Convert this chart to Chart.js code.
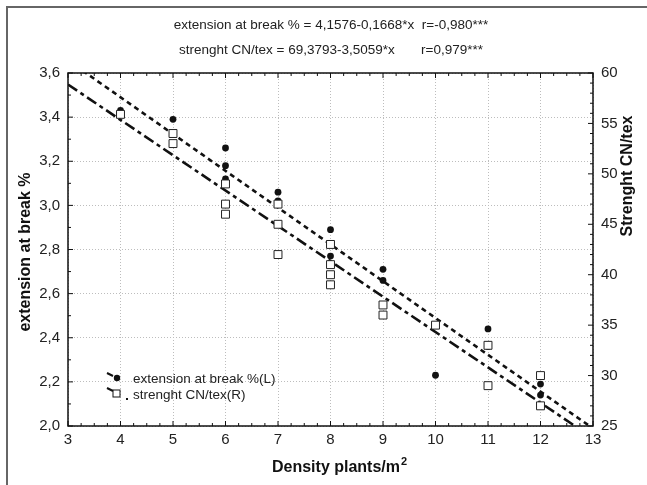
<!DOCTYPE html>
<html>
<head>
<meta charset="utf-8">
<script src="https://cdn.jsdelivr.net/npm/chart.js@4/dist/chart.umd.min.js"></script>
<style>
  html, body { margin: 0; padding: 0; background: #fff; }
  canvas { display: block; }
</style>
</head>
<body>
<canvas id="densityChart" width="647" height="485"></canvas>
<script>
// ======================================================
// Density vs extension at break / strength (two y axes)
// ======================================================

// extension at break % (left axis, filled circles)
const extDensity = [4, 5, 6, 6, 6, 7, 7, 8, 8, 9, 9, 10, 11, 11, 12, 12];
const extValues  = [3.43, 3.39, 3.26, 3.18, 3.12, 3.06, 3.02, 2.89, 2.77, 2.71, 2.66, 2.23, 2.44, 2.36, 2.19, 2.14];

// strenght CN/tex (right axis, open squares)
const strDensity = [4, 5, 5, 6, 6, 6, 7, 7, 7, 8, 8, 8, 8, 9, 9, 10, 11, 11, 12, 12];
const strValues  = [55.9, 54, 53, 49, 47, 46, 47, 45, 42, 43, 41, 40, 39, 37, 36, 35, 33, 29, 30, 27];

// fitted lines, end points at x = 3 and x = 13 (from the printed equations)
const fitDensity = [3, 13];
const extFit     = [3.657, 1.989];
const strFit     = [58.86, 23.80];

const titleLines = [
    "extension at break % = 4,1576-0,1668*x  r=-0,980***",
    "strenght CN/tex = 69,3793-3,5059*x       r=0,979***"
];
const legendLabels = ["extension at break %(L)", "strenght CN/tex(R)"];

const FONT = "'Liberation Sans', Arial, sans-serif";
const pts = (xs, ys) => xs.map((x, i) => ({ x: x, y: ys[i] }));
const comma = v => Number(v).toFixed(1).replace(".", ",");

// inward tick marks along one scale
function tickMarks(scale, minor, major, draw) {
    const n = Math.round((scale.max - scale.min) / minor);
    for (let i = 0; i <= n; i++) {
        const v = scale.min + i * minor;
        const r = v / major;
        const isMajor = Math.abs(r - Math.round(r)) < 1e-6;
        draw(scale.getPixelForValue(v), isMajor ? 5 : 3);
    }
}

const decor = {
    id: "decor",
    beforeDraw(chart) {
        const ctx = chart.ctx;
        ctx.save();
        ctx.fillStyle = "#fff";
        ctx.fillRect(0, 0, chart.width, chart.height);
        ctx.restore();
    },
    afterDraw(chart) {
        const { ctx, chartArea: a, scales } = chart;
        ctx.save();

        // outer frame (top + left only)
        ctx.strokeStyle = "#666";
        ctx.lineWidth = 2;
        ctx.beginPath();
        ctx.moveTo(7, chart.height);
        ctx.lineTo(7, 7);
        ctx.lineTo(chart.width, 7);
        ctx.stroke();

        // plot box
        ctx.strokeStyle = "#111";
        ctx.lineWidth = 1.5;
        ctx.strokeRect(a.left, a.top, a.right - a.left, a.bottom - a.top);

        // tick marks
        ctx.lineWidth = 1;
        ctx.beginPath();
        tickMarks(scales.x, 0.25, 1, (p, len) => {
            ctx.moveTo(p, a.bottom); ctx.lineTo(p, a.bottom - len);
            ctx.moveTo(p, a.top);    ctx.lineTo(p, a.top + len);
        });
        tickMarks(scales.y, 0.1, 0.2, (p, len) => {
            ctx.moveTo(a.left, p); ctx.lineTo(a.left + len, p);
        });
        tickMarks(scales.y2, 1, 5, (p, len) => {
            ctx.moveTo(a.right, p); ctx.lineTo(a.right - len, p);
        });
        ctx.stroke();

        // titles
        ctx.fillStyle = "#222";
        ctx.textAlign = "center";
        ctx.textBaseline = "middle";
        ctx.font = "13.5px " + FONT;
        ctx.fillText(titleLines[0], 331, 25);
        ctx.fillText(titleLines[1], 331, 50);

        // axis titles
        ctx.fillStyle = "#111";
        ctx.font = "bold 16px " + FONT;
        const xt = "Density plants/m";
        const w = ctx.measureText(xt).width;
        const x0 = 336 - w / 2;
        ctx.textAlign = "left";
        ctx.fillText(xt, x0, 468);
        ctx.font = "bold 11px " + FONT;
        ctx.fillText("2", x0 + w + 1, 462);

        ctx.font = "bold 16px " + FONT;
        ctx.textAlign = "center";
        ctx.save();
        ctx.translate(26, 252);
        ctx.rotate(-Math.PI / 2);
        ctx.fillText("extension at break %", 0, 0);
        ctx.restore();
        ctx.save();
        ctx.translate(628, 176);
        ctx.rotate(-Math.PI / 2);
        ctx.fillText("Strenght CN/tex", 0, 0);
        ctx.restore();

        // legend inside the plot, bottom left
        const lx = a.left + 39, ly = a.top + 300;
        ctx.strokeStyle = "#111";
        ctx.lineWidth = 2;
        ctx.beginPath();
        ctx.moveTo(lx, ly);      ctx.lineTo(lx + 6, ly + 3);
        ctx.moveTo(lx, ly + 15); ctx.lineTo(lx + 6, ly + 18);
        ctx.stroke();
        ctx.fillStyle = "#111";
        ctx.beginPath();
        ctx.arc(lx + 10, ly + 5, 3.2, 0, Math.PI * 2);
        ctx.fill();
        ctx.lineWidth = 1;
        ctx.fillStyle = "#fff";
        ctx.fillRect(lx + 6, ly + 17, 7, 7);
        ctx.strokeRect(lx + 6, ly + 17, 7, 7);
        ctx.fillStyle = "#111";
        ctx.fillRect(lx + 19, ly + 25, 2, 2);
        ctx.font = "13.5px " + FONT;
        ctx.textAlign = "left";
        ctx.fillStyle = "#222";
        ctx.fillText(legendLabels[0], lx + 26, ly + 6);
        ctx.fillText(legendLabels[1], lx + 26, ly + 22);

        ctx.restore();
    }
};

new Chart(document.getElementById("densityChart"), {
    type: "scatter",
    data: {
        datasets: [
            {
                label: legendLabels[1],
                data: pts(strDensity, strValues),
                yAxisID: "y2",
                pointStyle: "rect",
                pointRadius: 5.6,
                backgroundColor: "#fff",
                borderColor: "#222",
                borderWidth: 1,
                order: 1
            },
            {
                label: legendLabels[0],
                data: pts(extDensity, extValues),
                yAxisID: "y",
                pointStyle: "circle",
                pointRadius: 3.4,
                backgroundColor: "#111",
                borderColor: "#111",
                borderWidth: 0,
                order: 2
            },
            {
                label: "fit extension",
                data: pts(fitDensity, extFit),
                yAxisID: "y",
                showLine: true,
                pointRadius: 0,
                borderColor: "#111",
                borderWidth: 2.6,
                borderDash: [5, 4],
                order: 3
            },
            {
                label: "fit strenght",
                data: pts(fitDensity, strFit),
                yAxisID: "y2",
                showLine: true,
                pointRadius: 0,
                borderColor: "#111",
                borderWidth: 2.6,
                borderDash: [11, 4, 4, 4],
                order: 4
            }
        ]
    },
    options: {
        responsive: false,
        devicePixelRatio: 1,
        animation: false,
        layout: { padding: { top: 73, left: 0, right: 0, bottom: 0 } },
        plugins: {
            legend: { display: false },
            tooltip: { enabled: false }
        },
        scales: {
            x: {
                type: "linear",
                min: 3,
                max: 13,
                afterFit(axis) { axis.height = 59; },
                grid: { color: "#bdbdbd", lineWidth: 1, drawTicks: false },
                border: { display: false, dash: [1, 2] },
                ticks: {
                    stepSize: 1,
                    padding: 5,
                    color: "#222",
                    font: { family: FONT, size: 15 },
                    maxRotation: 0
                }
            },
            y: {
                position: "left",
                min: 2,
                max: 3.6,
                afterFit(axis) { axis.width = 68; },
                grid: { color: "#bdbdbd", lineWidth: 1, drawTicks: false },
                border: { display: false, dash: [1, 2] },
                ticks: {
                    stepSize: 0.2,
                    padding: 8,
                    color: "#222",
                    font: { family: FONT, size: 15 },
                    callback: v => comma(v)
                }
            },
            y2: {
                position: "right",
                min: 25,
                max: 60,
                afterFit(axis) { axis.width = 54; },
                grid: { display: false, drawTicks: false },
                border: { display: false },
                ticks: {
                    stepSize: 5,
                    padding: 8,
                    color: "#222",
                    font: { family: FONT, size: 15 }
                }
            }
        }
    },
    plugins: [decor]
});
</script>
</body>
</html>
